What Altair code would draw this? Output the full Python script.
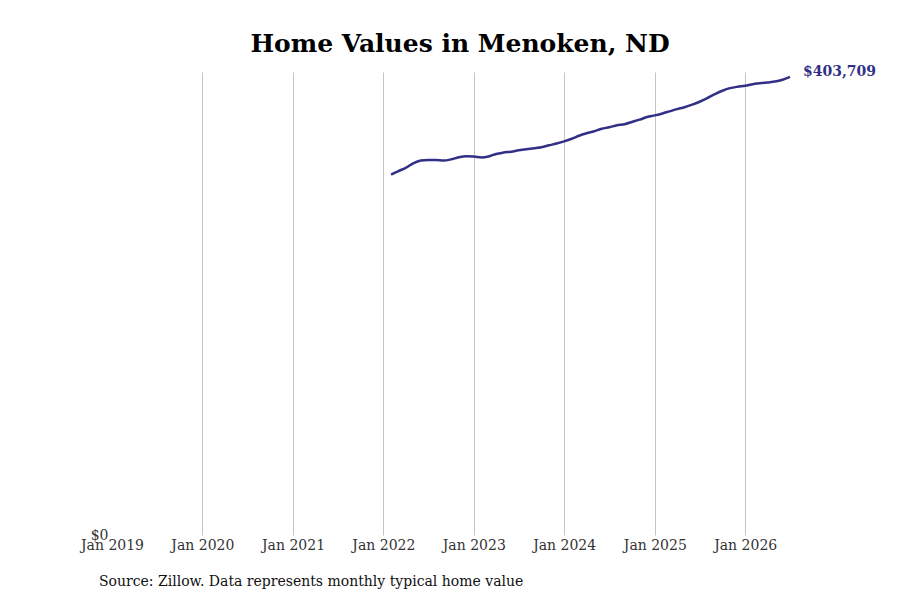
import altair as alt
import pandas as pd

months = pd.date_range("2022-02-01", "2026-07-01", freq="MS").strftime("%Y-%m-%d").tolist()
values = [
    317600, 320500, 323500, 327500, 330000, 330500, 330500, 330000, 331000, 332800, 333700,
    333500, 332700, 333500, 335800, 337000, 337800, 339000, 340000, 340800, 341700, 343400, 345000,
    346900, 349200, 351800, 354000, 355800, 358000, 359300, 361000, 362000, 364000, 366000, 368300,
    369800, 371500, 373300, 375300, 377000, 379200, 381800, 385000, 388500, 391500, 393800, 395000,
    395800, 397300, 398000, 398800, 399600, 401200, 403709,
]
tick_years = list(range(2019, 2027))
title_text = "Home Values in Menoken, ND"
source_text = "Source: Zillow. Data represents monthly typical home value"

df = pd.DataFrame({"date": months, "value": values})
last = df.tail(1)

FONT = "DejaVu Serif"
COLOR = "#322f87"

x_enc = alt.X(
    "date:T",
    scale=alt.Scale(domain=[alt.DateTime(year=2019, month=1, date=1), alt.DateTime(year=2026, month=7, date=1)], nice=False),
    axis=alt.Axis(
        values=[alt.DateTime(year=y, month=1, date=1) for y in tick_years],
        format="%b %Y",
        title=None,
        grid=True,
        gridColor=alt.condition("datum.index === 0", alt.value("transparent"), alt.value("#c4c4c4")),
        gridWidth=1,
        ticks=False,
        domain=False,
        labelFlush=False,
        labelFont=FONT,
        labelFontSize=14,
        labelColor="#333333",
        labelPadding=3,
    ),
)
y_enc = alt.Y(
    "value:Q",
    scale=alt.Scale(domain=[0, 408000], nice=False),
    axis=alt.Axis(
        values=[0],
        format="$,.0f",
        title=None,
        grid=False,
        ticks=False,
        domain=False,
        labelFlush=False,
        labelFont=FONT,
        labelFontSize=14,
        labelColor="#333333",
        labelPadding=4,
    ),
)

line = alt.Chart(df).mark_line(color=COLOR, strokeWidth=2.5, interpolate="monotone").encode(x=x_enc, y=y_enc)

end_label = alt.Chart(last).mark_text(
    align="left", baseline="middle", dx=13, dy=-5, font=FONT, fontSize=14, fontWeight="bold", color=COLOR
).encode(x="date:T", y="value:Q", text=alt.Text("value:Q", format="$,.0f"))

source = alt.Chart(pd.DataFrame({"t": [source_text]})).mark_text(
    align="left", baseline="middle", font=FONT, fontSize=14, color="#111111"
).encode(x=alt.value(-13), y=alt.value(510), text="t:N")

chart = alt.layer(line, end_label, source).properties(
    width=678,
    height=463,
    background="white",
    autosize=alt.AutoSizeParams(type="none"),
    padding={"left": 104, "top": 64, "right": 100, "bottom": 60},
    title=alt.TitleParams(
        title_text, font=FONT, fontSize=25, fontWeight="bold", color="#000000",
        anchor="middle", frame="group", dx=9, offset=8,
    ),
).configure_view(strokeWidth=0, stroke=None)

chart.save("out.html", embed_options={"renderer": "svg", "actions": False})
